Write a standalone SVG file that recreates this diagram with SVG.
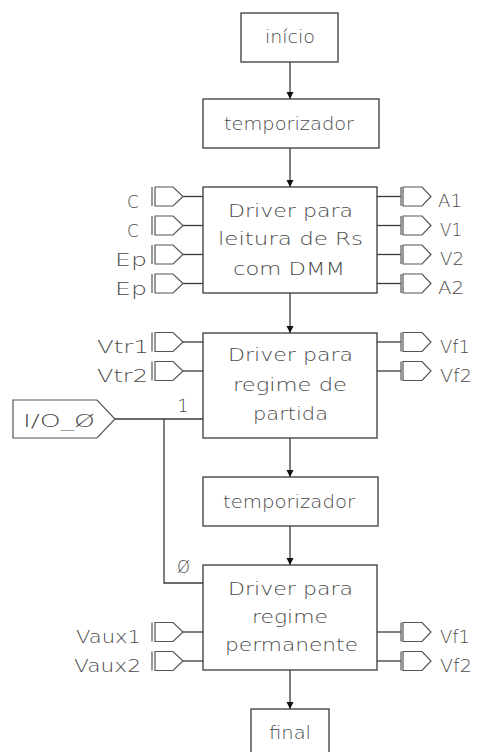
<svg xmlns="http://www.w3.org/2000/svg" xmlns:xlink="http://www.w3.org/1999/xlink" width="480" height="752" viewBox="0 0 480 752">
<style>
.box{fill:#fff;stroke:#3a3a3a;stroke-width:1.3}
.ln{fill:none;stroke:#3a3a3a;stroke-width:1.3}
.pt{fill:#fff;stroke:#555;stroke-width:1.2}
text{font-family:"DejaVu Sans","Liberation Sans",sans-serif;font-weight:200;font-size:18px;fill:#4a4a4a}
.c{text-anchor:middle}
.e{text-anchor:end}
</style>
<defs>
<marker id="arr" markerWidth="8" markerHeight="11" refX="7" refY="3.5" orient="auto" markerUnits="userSpaceOnUse">
<path d="M0,0 L7,3.5 L0,7 Z" fill="#111"/>
</marker>
<g id="pin">
<line class="ln" x1="183" y1="0" x2="203" y2="0"/>
<line class="pt" x1="152" y1="-9.5" x2="152" y2="9.5"/>
<path class="pt" d="M155,-9.5 H173 L183,0 L173,9.5 H155 Z"/>
</g>
<g id="pout">
<line class="ln" x1="377" y1="0" x2="401" y2="0"/>
<line class="pt" x1="401" y1="-9.5" x2="401" y2="9.5"/>
<path class="pt" d="M403,-9.5 H422 L431,0 L422,9.5 H403 Z"/>
</g>
</defs>
<rect width="480" height="752" fill="#fff"/>
<g id="connectors">
<line class="ln" x1="290" y1="62" x2="290" y2="99" marker-end="url(#arr)"/>
<line class="ln" x1="290" y1="148" x2="290" y2="187" marker-end="url(#arr)"/>
<line class="ln" x1="290" y1="293" x2="290" y2="333" marker-end="url(#arr)"/>
<line class="ln" x1="290" y1="438" x2="290" y2="477" marker-end="url(#arr)"/>
<line class="ln" x1="290" y1="526" x2="290" y2="565" marker-end="url(#arr)"/>
<line class="ln" x1="290" y1="670" x2="290" y2="709" marker-end="url(#arr)"/>
<polyline class="ln" points="115,419 203,419"/>
<polyline class="ln" points="164,419 164,583 203,583"/>
<text x="183" y="412" class="c">1</text>
<text x="183.5" y="573" class="c" textLength="13" lengthAdjust="spacingAndGlyphs">Ø</text>
</g>
<g id="inicio">
<rect class="box" x="241" y="13" width="97" height="49"/>
<text x="290" y="43" class="c" textLength="50" lengthAdjust="spacingAndGlyphs">início</text>
</g>
<g id="temporizador1">
<rect class="box" x="203" y="99" width="176" height="49"/>
<text x="289" y="130" class="c" textLength="130" lengthAdjust="spacingAndGlyphs">temporizador</text>
</g>
<g id="driver1">
<rect class="box" x="203" y="187" width="174" height="106"/>
<text x="290.5" y="217" class="c" textLength="125" lengthAdjust="spacingAndGlyphs">Driver para</text>
<text x="290.5" y="245" class="c" textLength="145" lengthAdjust="spacingAndGlyphs">leitura de Rs</text>
<text x="289" y="275" class="c" textLength="112" lengthAdjust="spacingAndGlyphs">com DMM</text>
<use xlink:href="#pin" y="196.5"/>
<use xlink:href="#pin" y="225.5"/>
<use xlink:href="#pin" y="254.5"/>
<use xlink:href="#pin" y="283.5"/>
<use xlink:href="#pout" y="196.5"/>
<use xlink:href="#pout" y="225.5"/>
<use xlink:href="#pout" y="254.5"/>
<use xlink:href="#pout" y="283.5"/>
<text x="139" y="207.5" class="e" textLength="12" lengthAdjust="spacingAndGlyphs">C</text>
<text x="139" y="236.5" class="e" textLength="12" lengthAdjust="spacingAndGlyphs">C</text>
<text x="147" y="265.5" class="e" textLength="32" lengthAdjust="spacingAndGlyphs">Ep</text>
<text x="147" y="294.5" class="e" textLength="32" lengthAdjust="spacingAndGlyphs">Ep</text>
<text x="438" y="207" textLength="24" lengthAdjust="spacingAndGlyphs">A1</text>
<text x="440" y="236" textLength="22" lengthAdjust="spacingAndGlyphs">V1</text>
<text x="440" y="265" textLength="24" lengthAdjust="spacingAndGlyphs">V2</text>
<text x="438" y="294" textLength="26" lengthAdjust="spacingAndGlyphs">A2</text>
</g>
<g id="driver2">
<rect class="box" x="203" y="333" width="174" height="105"/>
<text x="290.5" y="361" class="c" textLength="125" lengthAdjust="spacingAndGlyphs">Driver para</text>
<text x="290" y="391" class="c" textLength="114" lengthAdjust="spacingAndGlyphs">regime de</text>
<text x="290.5" y="420" class="c" textLength="75" lengthAdjust="spacingAndGlyphs">partida</text>
<use xlink:href="#pin" y="342"/>
<use xlink:href="#pin" y="371"/>
<use xlink:href="#pout" y="342"/>
<use xlink:href="#pout" y="371"/>
<text x="149" y="352.5" class="e" textLength="52" lengthAdjust="spacingAndGlyphs">Vtr1</text>
<text x="148" y="381.5" class="e" textLength="51" lengthAdjust="spacingAndGlyphs">Vtr2</text>
<text x="440" y="352.5" textLength="30" lengthAdjust="spacingAndGlyphs">Vf1</text>
<text x="440" y="381.5" textLength="32" lengthAdjust="spacingAndGlyphs">Vf2</text>
</g>
<g id="io0">
<path class="pt" d="M13,400 H97 L115,419 L97,438 H13 Z"/>
<text x="23" y="427" textLength="72" lengthAdjust="spacingAndGlyphs">I/O_Ø</text>
</g>
<g id="temporizador2">
<rect class="box" x="203" y="477" width="175" height="49"/>
<text x="289" y="508" class="c" textLength="132" lengthAdjust="spacingAndGlyphs">temporizador</text>
</g>
<g id="driver3">
<rect class="box" x="203" y="565" width="174" height="105"/>
<text x="290.5" y="595" class="c" textLength="125" lengthAdjust="spacingAndGlyphs">Driver para</text>
<text x="290" y="623" class="c" textLength="76" lengthAdjust="spacingAndGlyphs">regime</text>
<text x="291.5" y="651" class="c" textLength="133" lengthAdjust="spacingAndGlyphs">permanente</text>
<use xlink:href="#pin" y="632"/>
<use xlink:href="#pin" y="661"/>
<use xlink:href="#pout" y="632"/>
<use xlink:href="#pout" y="661"/>
<text x="141" y="642.5" class="e" textLength="65" lengthAdjust="spacingAndGlyphs">Vaux1</text>
<text x="141" y="671.5" class="e" textLength="67" lengthAdjust="spacingAndGlyphs">Vaux2</text>
<text x="440" y="642.5" textLength="30" lengthAdjust="spacingAndGlyphs">Vf1</text>
<text x="440" y="671.5" textLength="32" lengthAdjust="spacingAndGlyphs">Vf2</text>
</g>
<g id="final">
<rect class="box" x="251" y="709" width="78" height="50"/>
<text x="290" y="739" class="c" textLength="42" lengthAdjust="spacingAndGlyphs">final</text>
</g>
</svg>
